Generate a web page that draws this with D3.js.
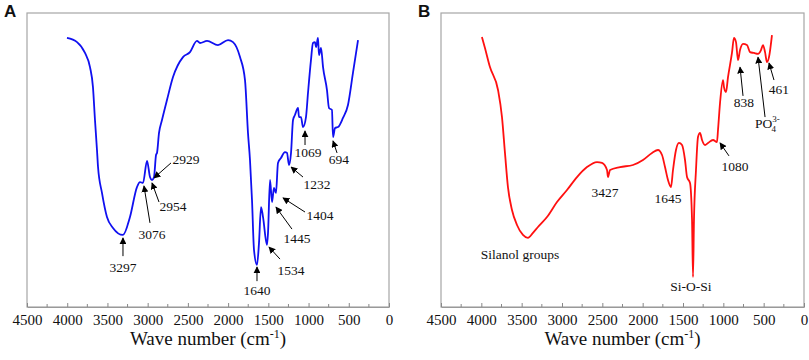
<!DOCTYPE html>
<html lang="en">
<head>
    <meta charset="UTF-8">
    <title>FTIR spectra</title>
    <script src="https://d3js.org/d3.v7.min.js"></script>
    <style>
        body { margin: 0; background: #fff; }
        svg text { font-family: "Liberation Serif", "Times New Roman", serif; fill: #111; }
        .panel-label { font-family: "Liberation Sans", Arial, sans-serif !important; font-weight: bold; font-size: 17px; }
        .tick-label { font-size: 15px; }
        .axis-title { font-size: 19px; }
        .note { font-size: 13.5px; }
    </style>
</head>
<body>
    <div id="chart"></div>
    <script>
        // Spectrum A (blue)
        const waveA = [4003, 3878, 3779, 3717, 3680, 3655, 3630, 3617, 3568, 3506, 3431, 3307, 3220, 3133, 3095, 3058,
            3008, 2971, 2946, 2921, 2896, 2884, 2859, 2822, 2760, 2685, 2561, 2474, 2387, 2349, 2262, 2126, 2001, 1939,
            1852, 1790, 1753, 1728, 1703, 1678, 1641, 1616, 1591, 1566, 1517, 1504, 1479, 1454, 1430, 1405, 1380, 1343,
            1293, 1268, 1243, 1218, 1193, 1169, 1131, 1119, 1094, 1069, 1032, 1007, 970, 945, 920, 907, 883, 870, 845,
            820, 771, 746, 709, 696, 671, 634, 572, 510, 448, 385];
        const transA = [91.5, 90.1, 86.4, 81.6, 74.8, 63.6, 53.4, 47.6, 38.8, 30.6, 26.9, 24.5, 30.6, 40.8, 42.5, 42.2,
            49.7, 44.2, 43.2, 44.2, 51.7, 52.4, 59.2, 63.6, 70.4, 78.2, 85.0, 86.7, 90.5, 89.8, 90.5, 89.1, 90.8, 90.1,
            85.0, 77.2, 59.2, 50.0, 36.4, 19.4, 14.3, 21.8, 34.0, 30.6, 21.1, 25.2, 43.2, 35.7, 40.5, 38.8, 49.0, 50.7,
            52.7, 52.4, 48.3, 52.4, 63.6, 65.3, 67.7, 64.6, 64.6, 61.2, 64.6, 72.8, 84.0, 89.8, 90.1, 88.4, 91.5, 85.7, 88.1,
            81.6, 73.8, 67.7, 67.0, 57.8, 60.9, 61.2, 64.3, 68.7, 79.6, 90.8];

        // Spectrum B (red)
        const waveB = [3992, 3955, 3893, 3793, 3744, 3707, 3670, 3620, 3558, 3484, 3422, 3360, 3298, 3186, 3062, 2938,
            2814, 2690, 2566, 2504, 2442, 2430, 2405, 2281, 2120, 1996, 1884, 1810, 1760, 1723, 1686, 1649, 1624, 1587,
            1550, 1512, 1475, 1450, 1413, 1388, 1376, 1364, 1339, 1314, 1289, 1264, 1227, 1190, 1128, 1079, 1066, 1041,
            1004, 992, 967, 942, 893, 868, 843, 818, 793, 756, 707, 669, 620, 570, 533, 508, 483, 459, 434, 397];
        const transB = [91.8, 88.1, 81.6, 73.8, 64.6, 52.4, 40.8, 33.0, 27.9, 24.5, 23.5, 25.2, 27.2, 30.6, 35.7, 39.8,
            44.2, 47.6, 49.3, 49.0, 46.6, 44.2, 46.6, 47.6, 48.3, 50.0, 52.4, 53.4, 51.7, 47.6, 43.2, 40.8, 46.6, 53.4,
            55.8, 55.1, 50.0, 44.2, 42.2, 29.6, 10.2, 29.6, 46.6, 57.8, 59.2, 56.8, 55.1, 55.8, 56.8, 56.1, 60.2, 69.4,
            77.2, 74.8, 73.1, 78.2, 86.4, 91.5, 90.1, 84.0, 87.4, 89.5, 89.1, 86.7, 86.4, 86.1, 87.4, 89.1, 86.7, 83.3, 85.0, 92.5];

        const xTicks = [4500, 4000, 3500, 3000, 2500, 2000, 1500, 1000, 500, 0];
        const xMinor = [4250, 3750, 3250, 2750, 2250, 1750, 1250, 750, 250];

        // peak annotations: label at (lx, ly); arrow from tail (ax, ay) to tip (tx, ty), all in data units
        const notesA = [
            { text: '3297', lx: 3307, ly: 11.9, ax: 3307, ay: 17.3, tx: 3307, ty: 23.5 },
            { text: '3076', lx: 2946, ly: 23.1, ax: 2971, ay: 28.6, tx: 3046, ty: 41.2 },
            { text: '2954', lx: 2685, ly: 32.7, ax: 2859, ay: 35.7, tx: 2946, ty: 42.2 },
            { text: '2929', lx: 2523, ly: 48.6, ax: 2710, ay: 49.0, tx: 2921, ty: 43.9 },
            { text: '1640', lx: 1641, ly: 4.1, ax: 1641, ay: 8.8, tx: 1641, ty: 13.6 },
            { text: '1534', lx: 1218, ly: 10.9, ax: 1355, ay: 16.3, tx: 1492, ty: 20.4 },
            { text: '1445', lx: 1144, ly: 21.8, ax: 1206, ay: 26.5, tx: 1405, ty: 34.0 },
            { text: '1404', lx: 858, ly: 29.6, ax: 1044, ay: 32.3, tx: 1318, ty: 37.1 },
            { text: '1232', lx: 895, ly: 40.1, ax: 1069, ay: 44.2, tx: 1218, ty: 47.6 },
            { text: '1069', lx: 1007, ly: 51.0, ax: 1044, ay: 55.1, tx: 1044, ty: 59.9 },
            { text: '694', lx: 622, ly: 48.6, ax: 646, ay: 52.4, tx: 696, ty: 56.5 }
        ];
        const notesB = [
            { text: 'Silanol groups', lx: 3521, ly: 16.3 },
            { text: '3427', lx: 2467, ly: 37.4 },
            { text: '1645', lx: 1686, ly: 35.4 },
            { text: 'Si-O-Si', lx: 1401, ly: 5.4 },
            { text: '1080', lx: 855, ly: 46.3, ax: 930, ay: 51.4, tx: 1041, ty: 55.8 },
            { text: '838', lx: 744, ly: 68.0, ax: 756, ay: 71.8, tx: 793, ty: 81.6 },
            { text: 'PO4', lx: 607, ly: 60.9, ax: 483, ay: 64.6, tx: 570, ty: 85.0, ion: true },
            { text: '461', lx: 310, ly: 72.4, ax: 372, ay: 77.2, tx: 434, ty: 83.0 }
        ];

        const svg = d3.select('#chart').append('svg')
            .attr('width', 809)
            .attr('height', 360);

        svg.append('defs').append('marker')
            .attr('id', 'head')
            .attr('viewBox', '0 0 10 10')
            .attr('refX', 9)
            .attr('refY', 5)
            .attr('markerWidth', 7)
            .attr('markerHeight', 7)
            .attr('markerUnits', 'userSpaceOnUse')
            .attr('orient', 'auto')
            .append('path')
            .attr('d', 'M0,0 L10,5 L0,10 z')
            .attr('fill', '#000');

        function drawPanel(left, right, label, waves, trans, color, notes) {
            const top = 13, bottom = 307;
            const x = d3.scaleLinear().domain([4500, 0]).range([left, right]);
            const y = d3.scaleLinear().domain([0, 100]).range([bottom, top]);
            const g = svg.append('g');

            g.append('rect')
                .attr('x', left).attr('y', top)
                .attr('width', right - left).attr('height', bottom - top)
                .attr('fill', 'none').attr('stroke', '#a6a6a6').attr('stroke-width', 1.2);

            // bottom axis, ticks pointing inward
            const axis = g.append('g').attr('transform', `translate(0,${bottom})`);
            axis.call(d3.axisBottom(x).tickValues(xTicks).tickSizeInner(-4).tickSizeOuter(0).tickPadding(7).tickFormat(d3.format('d')));
            axis.select('.domain').attr('stroke', '#999');
            axis.selectAll('.tick line').attr('stroke', '#888');
            axis.selectAll('.tick text').attr('class', 'tick-label').attr('fill', '#111').style('font-size', '15px');
            axis.selectAll('.minor').data(xMinor).enter().append('line')
                .attr('class', 'minor')
                .attr('x1', d => x(d)).attr('x2', d => x(d))
                .attr('y1', 0).attr('y2', -3)
                .attr('stroke', '#888');

            const title = g.append('text')
                .attr('class', 'axis-title')
                .attr('x', (left + right) / 2)
                .attr('y', 345)
                .attr('text-anchor', 'middle');
            title.append('tspan').text('Wave number (cm');
            title.append('tspan').attr('dy', -7).style('font-size', '12px').text('-1');
            title.append('tspan').attr('dy', 7).text(')');

            g.append('text')
                .attr('class', 'panel-label')
                .attr('x', left - 23)
                .attr('y', 17)
                .text(label);

            const pts = waves.map((w, i) => [w, trans[i]]);
            g.append('path')
                .datum(pts)
                .attr('fill', 'none')
                .attr('stroke', color)
                .attr('stroke-width', 1.8)
                .attr('stroke-linejoin', 'round')
                .attr('d', d3.line().x(d => x(d[0])).y(d => y(d[1])).curve(d3.curveMonotoneX));

            notes.forEach(n => {
                if (n.tx !== undefined) {
                    g.append('line')
                        .attr('x1', x(n.ax)).attr('y1', y(n.ay))
                        .attr('x2', x(n.tx)).attr('y2', y(n.ty))
                        .attr('stroke', '#000').attr('stroke-width', 1)
                        .attr('marker-end', 'url(#head)');
                }
                const t = g.append('text')
                    .attr('class', 'note')
                    .attr('x', x(n.lx))
                    .attr('y', y(n.ly))
                    .attr('text-anchor', n.ion ? 'start' : 'middle');
                if (n.ion) {
                    t.append('tspan').text('PO');
                    t.append('tspan').attr('dy', -6).style('font-size', '9px').text('3-');
                    t.append('tspan').attr('x', x(n.lx) + 16.5).attr('dy', 10).style('font-size', '9px').text('4');
                } else {
                    t.text(n.text);
                }
            });
        }

        drawPanel(27, 389, 'A', waveA, transA, '#1010f0', notesA);
        drawPanel(441, 804, 'B', waveB, transB, '#ff1010', notesB);
    </script>
</body>
</html>
